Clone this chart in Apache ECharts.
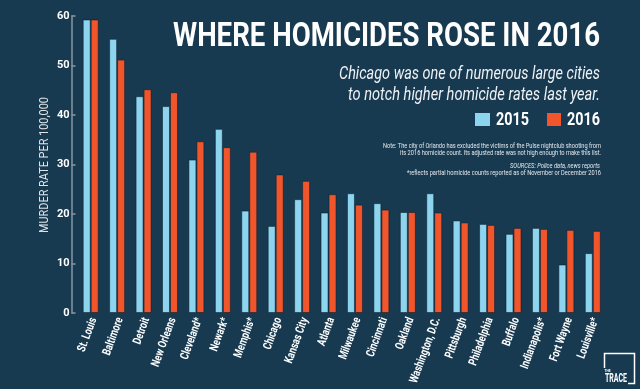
<!DOCTYPE html>
<html>
<head>
<meta charset="utf-8">
<script src="https://cdn.jsdelivr.net/npm/echarts@6/dist/echarts.min.js"></script>
<style>
html,body{margin:0;padding:0;background:#173a51;}
#c{width:640px;height:389px;}
</style>
</head>
<body>
<div id="c"></div>
<script>
const cities = ['St. Louis','Baltimore','Detroit','New Orleans','Cleveland*','Newark*','Memphis*','Chicago','Kansas City','Atlanta','Milwaukee','Cincinnati','Oakland','Washington, D.C.','Pittsburgh','Philadelphia','Buffalo','Indianapolis*','Fort Wayne','Louisville*'];
const rate2015 = [59.3,55.4,43.8,41.8,31.0,37.2,20.7,17.6,23.0,20.3,24.2,22.2,20.4,24.2,18.7,18.0,16.0,17.2,9.8,12.1];
const rate2016 = [59.3,51.2,45.2,44.6,34.7,33.5,32.6,28.0,26.7,24.0,21.9,20.9,20.4,20.3,18.3,17.8,17.2,17.0,16.8,16.6];
const seriesNames = ['2015','2016'];
const yTicks = [0,10,20,30,40,50,60];
const colors = ['#8dd4ee','#f0552c'];

const ctx = document.createElement('canvas').getContext('2d');
function measure(text, font){ ctx.font = font; return ctx.measureText(text).width; }
function fitText(text, font, width, x, y, align, fill, extra){
  const s = width / measure(text, font);
  return Object.assign({type:'text', x:x, y:y, scaleX:s, originX:0, z:10,
    style:{text:text, font:font, fill:fill||'#ffffff', align:align||'right', verticalAlign:'middle'}}, extra||{});
}

const chart = echarts.init(document.getElementById('c'));
chart.setOption({
  backgroundColor: '#173a51',
  animation: false,
  grid: {left: 77.5, right: 34, top: 16, bottom: 76, containLabel: false, outerBoundsMode: 'none'},
  xAxis: {
    type: 'category', data: cities,
    axisLine: {show: false}, axisTick: {show: false},
    axisLabel: {show: false}
  },
  yAxis: {
    type: 'value', min: 0, max: 60, interval: 10, offset: 6,
    axisLine: {show: true, lineStyle: {color: '#8a97a3', width: 1.5}},
    axisTick: {show: true, inside: true, length: 4, lineStyle: {color: '#8a97a3', width: 1.5}},
    splitLine: {show: false},
    axisLabel: {color: '#ffffff', fontFamily: 'Roboto', fontWeight: 'bold', fontSize: 11, margin: 2,
      formatter: v => yTicks.includes(v) ? String(v) : ''}
  },
  series: [{
    name: seriesNames[0], type: 'bar', data: rate2015, barWidth: 8, barGap: '0%',
    itemStyle: {color: colors[0], borderColor: 'rgba(10,30,45,0.55)', borderWidth: 1}
  },{
    name: seriesNames[1], type: 'bar', data: rate2016, barWidth: 8,
    itemStyle: {color: colors[1], borderColor: 'rgba(10,30,45,0.55)', borderWidth: 1}
  }]
});

const g = [];
// title & subtitle
g.push(fitText('WHERE HOMICIDES ROSE IN 2016', 'bold 33px Roboto', 427, 600, 37.5, 'right'));
g.push(fitText('Chicago was one of numerous large cities', 'italic 18px Roboto', 261, 600, 74, 'right', '#eef2f5'));
g.push(fitText('to notch higher homicide rates last year.', 'italic 18px Roboto', 252, 600, 95.5, 'right', '#eef2f5'));
// legend
g.push({type:'rect', shape:{x:475, y:113, width:15, height:13}, style:{fill:colors[0]}});
g.push(fitText(seriesNames[0], 'bold 19px Roboto', 33, 496, 120, 'left'));
g.push({type:'rect', shape:{x:547, y:113, width:14, height:13}, style:{fill:colors[1]}});
g.push(fitText(seriesNames[1], 'bold 19px Roboto', 33, 567, 120, 'left'));
// notes
g.push(fitText('Note: The city of Orlando has excluded the victims of the Pulse nightclub shooting from', '7px Roboto', 218, 601, 146.7, 'right', '#e4e8ec'));
g.push(fitText('its 2016 homicide count. Its adjusted rate was not high enough to make this list.', '7px Roboto', 201, 601, 153.5, 'right', '#e4e8ec'));
g.push(fitText('SOURCES: Police data, news reports', 'italic 7px Roboto', 90, 600, 166.7, 'right', '#e4e8ec'));
g.push(fitText('*reflects partial homicide counts reported as of November or December 2016', '7px Roboto', 194, 601, 173.5, 'right', '#e4e8ec'));
// y axis name
g.push(fitText('MURDER RATE PER 100,000', '13px Roboto', 136, 45, 165, 'center', '#dfe4e8', {rotation: Math.PI/2}));
// x labels
const labFont = 'bold 12px Roboto';
const labScale = 69 / measure('Washington, D.C.', labFont);
cities.forEach(function(c, i){
  const px = chart.convertToPixel({xAxisIndex:0}, i);
  g.push({type:'text', x: px + 3, y: 318, rotation: 70*Math.PI/180, scaleX: labScale, z:10,
    style:{text:c, font:labFont, fill:'#ffffff', align:'right', verticalAlign:'middle'}});
});
// logo
g.push({type: 'polyline', shape: {points: [[604.5,368],[604.5,353.5],[634.5,353.5],[634.5,383.5],[628,383.5]]}, style: {stroke: '#ffffff', lineWidth: 1.5, fill: null}});
g.push(fitText('THE', 'bold 4px Roboto', 6, 604.5, 370.5, 'left'));
g.push(fitText('TRACE', 'bold 12px Roboto', 22, 605, 378.5, 'left'));

chart.setOption({graphic: g});
</script>
</body>
</html>
